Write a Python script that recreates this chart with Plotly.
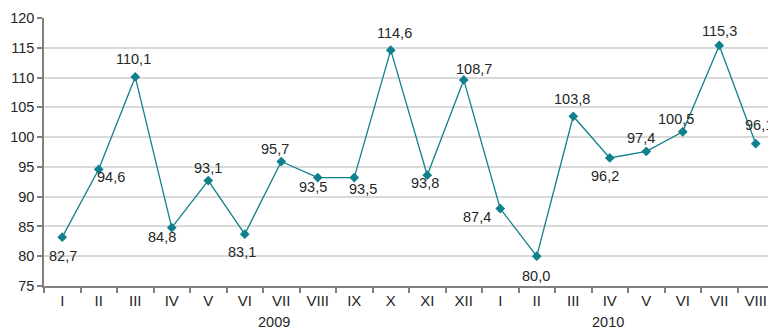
import plotly.graph_objects as go

# Months (Roman numerals): Jan 2009 .. Aug 2010
months = ["I", "II", "III", "IV", "V", "VI", "VII", "VIII", "IX", "X", "XI", "XII",
          "I", "II", "III", "IV", "V", "VI", "VII", "VIII"]
years = ["2009", "2010"]

# Marker heights as drawn in the chart
index_values = [83.2, 94.6, 110.1, 84.8, 92.7, 83.7, 95.9, 93.2, 93.2, 114.6, 93.6, 109.6,
                88.0, 80.0, 103.5, 96.5, 97.6, 100.9, 115.4, 98.9]
# Data labels as printed next to each marker
value_labels = ["82,7", "94,6", "110,1", "84,8", "93,1", "83,1", "95,7", "93,5", "93,5", "114,6",
                "93,8", "108,7", "87,4", "80,0", "103,8", "96,2", "97,4", "100,5", "115,3", "96,1"]

LINE_COLOR = "#10808c"
TEXT_COLOR = "#262626"
AXIS_COLOR = "#7f7f7f"
FONT = "Liberation Sans, Arial, sans-serif"

# pixel offset of each label from its marker (dx right, dy down)
label_offsets = [(1, 19), (12, 8), (-2, -18), (-10, 9), (0, -13), (-3, 18), (-6, -13),
                 (-5, 9), (9, 11), (4, -17), (-2, 8), (10, -11), (-23, 8), (-1, 20),
                 (-1, -17), (-5, 18), (-5, -13), (-7, -13), (0, -14), (3, -19)]

x = list(range(len(months)))

fig = go.Figure()
fig.add_trace(go.Scatter(
    x=x,
    y=index_values,
    mode="lines+markers",
    line=dict(color=LINE_COLOR, width=1.3),
    marker=dict(symbol="diamond", size=7.5, color=LINE_COLOR),
    cliponaxis=False,
    hoverinfo="skip",
))

for xi, yi, lab, (dx, dy) in zip(x, index_values, value_labels, label_offsets):
    fig.add_annotation(
        x=xi, y=yi, text=lab, showarrow=False,
        xanchor="center", yanchor="middle",
        xshift=dx, yshift=-dy,
        font=dict(size=14.5, color=TEXT_COLOR, family=FONT),
    )

# Year labels under the month axis
for yr, xpos in zip(years, [5.8, 14.95]):
    fig.add_annotation(
        x=xpos, y=0, xref="x", yref="paper", yanchor="middle", yshift=-36,
        text=yr, showarrow=False,
        font=dict(size=14.5, color=TEXT_COLOR, family=FONT),
    )

# the page adds an 8px body margin, so the figure is shrunk by that much
fig.update_layout(
    width=768, height=321,
    margin=dict(l=33, r=2, t=9, b=43),
    plot_bgcolor="white",
    paper_bgcolor="white",
    showlegend=False,
    font=dict(family=FONT, size=14, color=TEXT_COLOR),
    xaxis=dict(
        range=[-0.5, len(months) - 0.5],
        tickvals=x,
        ticktext=months,
        ticks="",
        showgrid=False,
        zeroline=False,
        showline=True,
        linecolor=AXIS_COLOR,
        linewidth=1.5,
        tickfont=dict(size=15, color=TEXT_COLOR),
        minor=dict(
            tickvals=[i - 0.5 for i in range(len(months) + 1)],
            ticks="outside", ticklen=5, tickcolor=AXIS_COLOR, tickwidth=1.5,
            showgrid=False,
        ),
    ),
    yaxis=dict(
        range=[75, 120],
        dtick=5,
        ticks="outside",
        ticklen=5,
        tickcolor=AXIS_COLOR,
        tickwidth=1.5,
        showline=True,
        linecolor=AXIS_COLOR,
        linewidth=1.5,
        gridcolor="#d9d9d9",
        gridwidth=2,
        zeroline=False,
        tickfont=dict(size=14.5, color=TEXT_COLOR),
    ),
)

fig.write_html("out.html")
